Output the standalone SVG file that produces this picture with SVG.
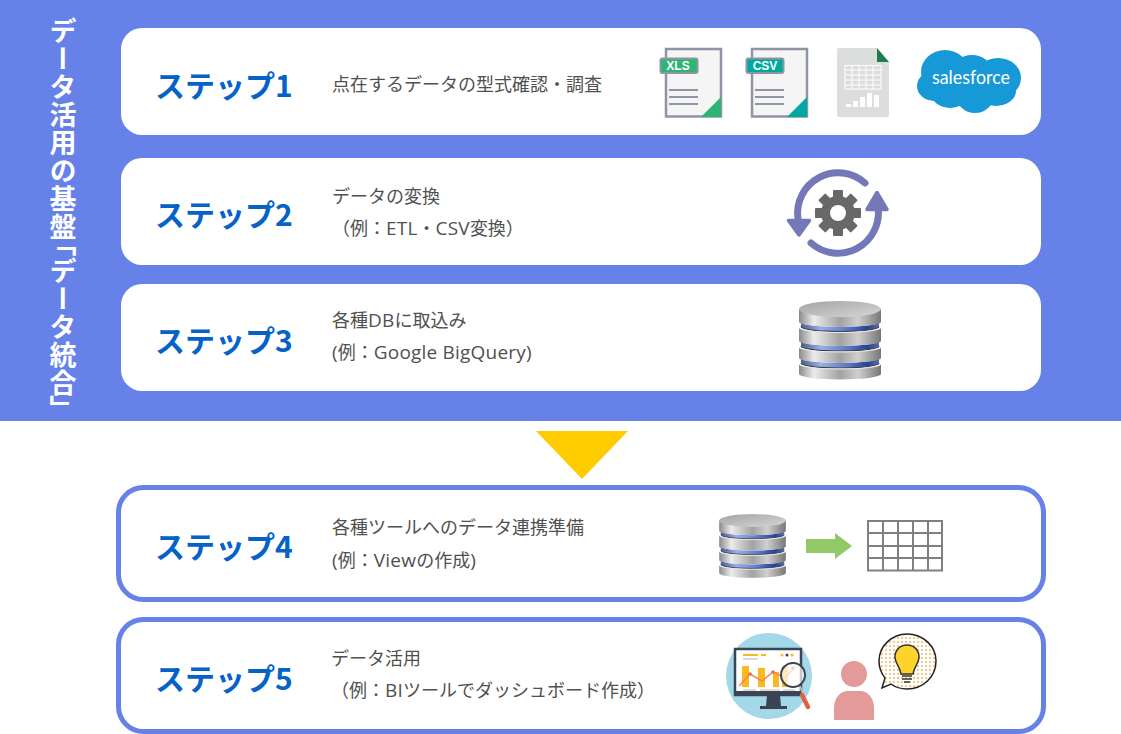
<svg xmlns="http://www.w3.org/2000/svg" width="1121" height="734" viewBox="0 0 1121 734">
<style>
.card{fill:#fff}
.ocard{fill:#fff;stroke:#6682E8;stroke-width:5}
.step{font-family:"Noto Sans CJK JP","Noto Sans",sans-serif;font-weight:700;font-size:30px;fill:#0563C8}
.body{font-family:"Open Sans","Noto Sans CJK JP",sans-serif;font-size:18px;fill:#505050}
.l{font-size:19px;letter-spacing:.2px}
.title{font-family:"Noto Sans CJK JP",sans-serif;font-weight:700;font-size:27px;letter-spacing:1px;fill:#fff;writing-mode:vertical-rl}
.doc{fill:#F5F5F5;stroke:#8F95A5;stroke-width:2.5}
.dl{stroke:#8F95A5;stroke-width:2}
.tag{font-family:"Liberation Sans",sans-serif;font-weight:700;font-size:12px;fill:#fff;text-anchor:middle}
.ring{fill:none;stroke:#7478B8;stroke-width:7;stroke-linecap:round}
.tbl{stroke:#808080;stroke-width:2;fill:none}
.gl{stroke:#fff;stroke-width:1;fill:none}
.m{fill:url(#metal)}
.b{fill:url(#blue)}
.hi{fill:none;stroke:#e8e8e8;stroke-width:1}
.dk{fill:none;stroke:#3e4048;stroke-width:1.200}
</style>
<defs>
<linearGradient id="metal" x1="0" x2="1" y1="0" y2="0">
<stop offset="0" stop-color="#8a8a8a"/><stop offset=".18" stop-color="#ececec"/><stop offset=".5" stop-color="#a2a2a2"/><stop offset=".72" stop-color="#cfcfcf"/><stop offset="1" stop-color="#767676"/>
</linearGradient>
<linearGradient id="blue" x1="0" x2="1" y1="0" y2="0">
<stop offset="0" stop-color="#4a5c96"/><stop offset=".25" stop-color="#9ab0e6"/><stop offset=".6" stop-color="#5a78c8"/><stop offset=".85" stop-color="#24429a"/><stop offset="1" stop-color="#5a6ca8"/>
</linearGradient>
<linearGradient id="lid" x1="0" x2="1" y1="0" y2="1">
<stop offset="0" stop-color="#a4a4a4"/><stop offset="1" stop-color="#d6d6d6"/>
</linearGradient>
<pattern id="dots" width="4" height="4" patternUnits="userSpaceOnUse"><rect width="4" height="4" fill="#fff"/><circle cx="2" cy="2" r="1" fill="#F4B860"/></pattern>
<symbol id="db" viewBox="0 0 82 80">
<path class="b" d="M2 57A39 5 0 0 0 80 57V62A39 5 0 0 1 2 62Z"/>
<path class="dk" d="M2 62A39 5 0 0 0 80 62"/>
<path class="m" d="M0 63A41 5 0 0 0 82 63V73A41 5.500 0 0 1 0 73Z"/>
<path class="hi" d="M0 63A41 5 0 0 0 82 63"/>
<path class="b" d="M2 40A39 5 0 0 0 80 40V45A39 5 0 0 1 2 45Z"/>
<path class="dk" d="M2 45A39 5 0 0 0 80 45"/>
<path class="m" d="M0 46A41 5 0 0 0 82 46V57A41 5 0 0 1 0 57Z"/>
<path class="hi" d="M0 46A41 5 0 0 0 82 46"/>
<path class="b" d="M2 21A39 5 0 0 0 80 21V25.500A39 5 0 0 1 2 25.500Z"/>
<path class="dk" d="M2 25.500A39 5 0 0 0 80 25.500"/>
<path class="m" d="M0 26.500A41 5 0 0 0 82 26.500V40A41 5 0 0 1 0 40Z"/>
<path class="hi" d="M0 26.500A41 5 0 0 0 82 26.500"/>
<path class="m" d="M0 8V21A41 5 0 0 0 82 21V8Z"/>
<ellipse cx="41" cy="8" rx="41" ry="8" fill="url(#lid)"/>
</symbol>
</defs>
<rect id="band" x="0" y="0" width="1121" height="421" fill="#6682E8"/>
<text class="title" x="63" y="17">データ活用の基盤<tspan y="229">「データ統合</tspan><tspan y="395">」</tspan></text>
<g id="connectors"><polygon points="536,431 628,431 582,479" fill="#FFCC00"/></g>

<g id="step1">
<rect class="card" x="121" y="28" width="920" height="107" rx="21"/>
<text class="step" x="155" y="97">ステップ1</text>
<text class="body" x="332" y="91">点在するデータの型式確認・調査</text>
<g id="xls">
<rect class="doc" x="666" y="49" width="55" height="67.5"/>
<polygon points="701,117 721,97 721,117" fill="#2BB673"/>
<path class="dl" d="M669 90H698M669 97H698M669 104H698"/>
<rect x="660.500" y="58.500" width="37" height="14.500" rx="2" fill="#2BB673" stroke="#8F95A5" stroke-width="2"/>
<text class="tag" x="678" y="70">XLS</text>
</g>
<g id="csv">
<rect class="doc" x="752" y="49" width="55" height="67.5"/>
<polygon points="787,117 807,97 807,117" fill="#00A99D"/>
<path class="dl" d="M755 90H784M755 97H784M755 104H784"/>
<rect x="746.500" y="58.500" width="37" height="14.500" rx="2" fill="#00A99D" stroke="#8F95A5" stroke-width="2"/>
<text class="tag" x="765" y="70">CSV</text>
</g>
<g id="sheet">
<path d="M839 48H877L889 62V115a2 2 0 0 1-2 2H839a2 2 0 0 1-2-2V50a2 2 0 0 1 2-2Z" fill="#DCDEDD"/>
<polygon points="877,48 889,62 877,62" fill="#1F7D4D"/>
<path class="gl" d="M845 65.500H881M845 70H881M845 75H881M845 80H881M845 85H881M845 89H881M845 65V89M852 65V89M859 65V89M866 65V89M873 65V89M881 65V89"/>
<path fill="#fff" d="M846 104h5v3h-5zM853 101h5v6h-5zM860 97h5v10h-5zM867 93h5v14h-5zM874 95h5v12h-5z"/>
</g>
<g id="salesforce">
<g fill="#1798D7">
<ellipse cx="945" cy="72" rx="24" ry="22"/><ellipse cx="972" cy="72" rx="20" ry="17"/><ellipse cx="998" cy="78" rx="23" ry="20"/><ellipse cx="934" cy="86" rx="17" ry="15"/><ellipse cx="950" cy="93" rx="19" ry="15"/><ellipse cx="975" cy="95" rx="19" ry="18"/><ellipse cx="996" cy="91" rx="20" ry="15"/>
</g>
<text x="932" y="84" textLength="78" lengthAdjust="spacingAndGlyphs" font-family="Lato,'Open Sans',sans-serif" font-size="19" fill="#fff">salesforce</text>
</g>
</g>

<g id="step2">
<rect class="card" x="121" y="158" width="920" height="107" rx="21"/>
<text class="step" x="155" y="226">ステップ2</text>
<text class="body" x="332" y="203">データの変換</text>
<text class="body" x="332" y="235">（例：<tspan class="l">ETL</tspan>・<tspan class="l">CSV</tspan>変換）</text>
<g id="gear-icon">
<path class="ring" d="M865 183A40.500 40.500 0 0 0 798 219"/>
<path class="ring" d="M811 243A40.500 40.500 0 0 0 878 207"/>
<path d="M788.500 220.500H809.500L799 235Z" fill="#7478B8" stroke="#7478B8" stroke-width="3.500" stroke-linejoin="round"/>
<path d="M867 209.500H887L877 192.500Z" fill="#7478B8" stroke="#7478B8" stroke-width="3.500" stroke-linejoin="round"/>
<g fill="#666966" transform="translate(838 213)">
<rect x="-5" y="-23" width="10" height="46" rx="1"/>
<rect x="-5" y="-23" width="10" height="46" rx="1" transform="rotate(45)"/>
<rect x="-5" y="-23" width="10" height="46" rx="1" transform="rotate(90)"/>
<rect x="-5" y="-23" width="10" height="46" rx="1" transform="rotate(135)"/>
<circle r="17"/>
<circle r="8" fill="#fff"/>
</g>
</g>
</g>

<g id="step3">
<rect class="card" x="121" y="284" width="920" height="107" rx="21"/>
<text class="step" x="155" y="352">ステップ3</text>
<text class="body" x="332" y="327">各種<tspan class="l">DB</tspan>に取込み</text>
<text class="body" x="332" y="359"><tspan class="l">(</tspan>例：<tspan class="l">Google BigQuery)</tspan></text>
<use href="#db" x="799" y="301" width="82" height="80"/>
</g>

<g id="step4">
<rect class="ocard" x="118.500" y="487.500" width="925" height="112" rx="25"/>
<text class="step" x="155" y="558">ステップ4</text>
<text class="body" x="332" y="534">各種ツールへのデータ連携準備</text>
<text class="body" x="332" y="567"><tspan class="l">(</tspan>例：<tspan class="l">View</tspan>の作成<tspan class="l">)</tspan></text>
<use href="#db" x="719" y="514" width="67" height="65"/>
<polygon points="806,539 835,539 835,533 852,546 835,559 835,553 806,553" fill="#92C966"/>
<path class="tbl" d="M867 521H943M867 533H943M867 546H943M867 558H943M867 570.500H943M868 520V571M883 520V571M898 520V571M913 520V571M928 520V571M942 520V571"/>
</g>

<g id="step5">
<rect class="ocard" x="118.500" y="619.500" width="925" height="112" rx="25"/>
<text class="step" x="155" y="690">ステップ5</text>
<text class="body" x="331" y="665">データ活用</text>
<text class="body" x="331" y="697">（例：<tspan class="l">BI</tspan>ツールでダッシュボード作成）</text>
<g id="analytics">
<circle cx="769" cy="676" r="43" fill="#A2D8E8"/>
<path d="M767 695H780L781 706H787V709H760V706H766Z" fill="#3A4454"/>
<rect x="735" y="649" width="66" height="46" fill="#fff" stroke="#3A4454" stroke-width="2.500"/>
<rect x="735" y="691" width="66" height="4" fill="#3A4454"/>
<path fill="#FBB81F" d="M742 666h7v21h-7zM758 668h7v19h-7zM773 672h6v15h-6zM782 666h6v21h-6zM743 654h15v2h-15zM761 654h5v2h-5z"/>
<path d="M739 686L750 674L762 681L773 672L785 678L795 667" fill="none" stroke="#F08A5A" stroke-width="1.500"/>
<g fill="#EE6A4F"><circle cx="750" cy="674" r="1.800"/><circle cx="773" cy="672" r="1.800"/><circle cx="793" cy="668" r="1.800"/></g>
<path d="M743 659h15M743 690h13M760 690h20M783 690h12" stroke="#cfcfcf" stroke-width="1.500"/>
<circle cx="782" cy="655" r="1.500" fill="#FBB81F"/><circle cx="787" cy="655" r="1.500" fill="#3A4454"/><circle cx="792" cy="655" r="1.500" fill="#FBB81F"/>
<path d="M800 686L803 694" stroke="#bbb" stroke-width="2"/>
<path d="M802 695L808 707" stroke="#E2603F" stroke-width="4.500" stroke-linecap="round"/>
<circle cx="793" cy="675" r="12" fill="#fff" fill-opacity=".7" stroke="#3A4454" stroke-width="2"/>
</g>
<g id="person" fill="#E59A9A">
<circle cx="854" cy="674" r="13"/>
<path d="M834 720V708C834 697 841 691 848 691H860C867 691 874 697 874 708V720Z"/>
</g>
<g id="idea">
<path d="M907 634C923 634 936 646 936 661C936 677 923 689 907 689C900 689 895 687 891 684L882 688L885 678C881 673 879 667 879 661C879 646 892 634 907 634Z" fill="url(#dots)" stroke="#222" stroke-width="1.500"/>
<path d="M907 645C900 645 895 650 895 657C895 663 900 667 901 674H913C914 667 919 663 919 657C919 650 914 645 907 645Z" fill="#FFD42A" stroke="#333" stroke-width="1.500"/>
<path d="M902 676H912M902 679H912M904 682H910" stroke="#333" stroke-width="1.500"/>
</g>
</g>
</svg>
